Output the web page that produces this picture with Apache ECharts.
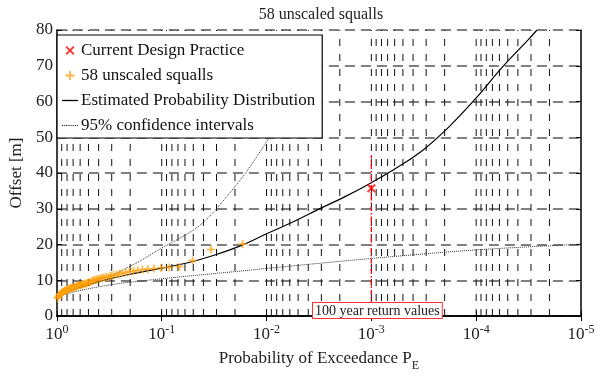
<!DOCTYPE html>
<html><head><meta charset="utf-8">
<script src="https://cdn.jsdelivr.net/npm/echarts@6/dist/echarts.min.js"></script>
<style>html,body{margin:0;padding:0;background:#fff}#c{width:606px;height:377px}</style>
</head><body><div id="c"></div>
<script>
// ---- data ----
const titleText = '58 unscaled squalls';
const xDecadeExponents = [0, -1, -2, -3, -4, -5];
const yTicks = [0, 10, 20, 30, 40, 50, 60, 70, 80];

// 58 squalls: exceedance probability and offset [m]
const squallP = [0.01695,0.03390,0.05085,0.06780,0.08475,0.10169,0.11864,0.13559,0.15254,0.16949,
  0.18644,0.20339,0.22034,0.23729,0.25424,0.27119,0.28814,0.30508,0.32203,0.33898,
  0.35593,0.37288,0.38983,0.40678,0.42373,0.44068,0.45763,0.47458,0.49153,0.50847,
  0.52542,0.54237,0.55932,0.57627,0.59322,0.61017,0.62712,0.64407,0.66102,0.67797,
  0.69492,0.71186,0.72881,0.74576,0.76271,0.77966,0.79661,0.81356,0.83051,0.84746,
  0.86441,0.88136,0.89831,0.91525,0.93220,0.94915,0.96610,0.98305];
const squallOffset = [20.1,18.6,15.5,13.8,13.6,13.5,13.3,13.1,13.0,12.8,
  12.6,12.4,12.2,12.0,11.8,11.6,11.4,11.2,11.0,10.9,
  10.8,10.6,10.5,10.3,10.2,10.0,9.8,9.6,9.4,9.3,
  9.1,9.0,8.9,8.8,8.7,8.6,8.5,8.4,8.2,8.1,
  8.0,7.9,7.8,7.7,7.6,7.5,7.4,7.2,7.1,7.0,
  6.8,6.7,6.5,6.3,6.1,5.9,5.4,5.0];

// Current design practice (100 year return value)
const designP = [0.001];
const designOffset = [35.7];
const returnLineOffsets = [0, 45];

// Estimated probability distribution (log10 P, offset)
const fitExp    = [0, -0.1, -0.25, -0.5, -0.75, -1.0, -1.25, -1.5, -1.75, -2.0, -2.25, -2.5, -2.75, -3.0, -3.25, -3.5, -3.75, -4.0, -4.25, -4.5, -4.58];
const fitOffset = [5.3, 6.8, 8.3, 10.4, 12.0, 13.4, 14.9, 17.0, 19.6, 23.0, 26.3, 29.9, 33.4, 37.3, 41.6, 46.6, 53.2, 61.0, 69.6, 77.4, 80.0];

// 95% confidence intervals (log10 P, offset)
const upperExp    = [0, -0.2, -0.36, -0.55, -0.67, -0.8, -0.93, -1.0, -1.28, -1.4, -1.52, -1.8, -2.03, -2.2];
const upperOffset = [5.6, 8.0, 10.0, 11.8, 13.5, 15.5, 17.8, 19.0, 23.6, 26.3, 29.9, 40.0, 50.0, 57.0];
const lowerExp    = [0, -0.2, -0.55, -0.93, -1.3, -1.87, -2.0, -3.0, -4.0, -5.0];
const lowerOffset = [5.4, 7.0, 8.9, 10.2, 11.3, 12.9, 13.3, 16.1, 18.5, 20.1];

const annotationText = '100 year return values';

// ---- build ----
const FONT = 'Liberation Serif';
const toPairs = (ex, ys) => ex.map((e, i) => [Math.pow(10, e), ys[i]]);
const vGrid = [];
for (let d = 0; d > -5; d--) {
  for (let m = 1; m <= 9; m++) {
    const v = m * Math.pow(10, d - 1);
    if (v < 0.999 && v > 1.0001e-5) vGrid.push([v, 0]);
  }
}
const crossPath = 'path://M0,1.5L1.5,0L5,3.5L8.5,0L10,1.5L6.5,5L10,8.5L8.5,10L5,6.5L1.5,10L0,8.5L3.5,5Z';
const plusPath = 'path://M4,0H6V4H10V6H6V10H4V6H0V4H4Z';
const solidPath = 'path://M0,0H16V1.3H0Z';
let dots = '';
for (let k = 0; k < 8; k++) dots += 'M' + (2 * k) + ',0h1.1v1.1h-1.1z';
const dottedPath = 'path://' + dots;

const chart = echarts.init(document.getElementById('c'), null, { renderer: 'canvas' });
chart.setOption({
  animation: false,
  backgroundColor: '#fff',
  title: {
    text: titleText, left: 316, top: 2, textAlign: 'center',
    textStyle: { fontFamily: FONT, fontSize: 16, fontWeight: 'normal', color: '#222' }
  },
  grid: { left: 52, right: 25, top: 30, bottom: 49 },
  legend: {
    orient: 'vertical', left: 57, top: 35,
    backgroundColor: '#fff', borderColor: '#000', borderWidth: 1.2,
    padding: [7, 7, 4, 5], itemGap: 8, itemWidth: 16, itemHeight: 9,
    textStyle: { fontFamily: FONT, fontSize: 17, color: '#111', padding: [0, 0, 0, -2] },
    data: [
      { name: 'Current Design Practice', icon: crossPath },
      { name: '58 unscaled squalls', icon: plusPath },
      { name: 'Estimated Probability Distribution', icon: solidPath, itemStyle: { color: '#000' } },
      { name: '95% confidence intervals', icon: dottedPath, itemStyle: { color: '#222' } }
    ]
  },
  xAxis: [{
    type: 'log', logBase: 10, min: 1e-5, max: 1, inverse: true,
    name: 'Probability of Exceedance P{sub|E}', nameLocation: 'middle', nameGap: 30,
    nameTextStyle: {
      fontFamily: FONT, fontSize: 17, color: '#222',
      rich: { sub: { fontFamily: FONT, fontSize: 12, padding: [14, 0, 0, 0], color: '#222' } }
    },
    axisLine: { lineStyle: { color: '#000', width: 1.5 } },
    axisTick: { inside: true, length: 5, lineStyle: { color: '#000' } },
    splitLine: { show: false },
    axisLabel: {
      margin: 8, color: '#222', fontFamily: FONT, fontSize: 17,
      formatter: v => '10{sup|' + Math.round(Math.log10(v)) + '}',
      rich: { sup: { fontFamily: FONT, fontSize: 12, padding: [0, 0, 10, 0], color: '#222' } }
    }
  }, {
    type: 'log', logBase: 10, min: 1e-5, max: 1, inverse: true, position: 'top',
    axisLine: { lineStyle: { color: '#000', width: 1.5 } },
    axisTick: { inside: true, length: 5, lineStyle: { color: '#000' } },
    axisLabel: { show: false }, splitLine: { show: false }
  }],
  yAxis: [{
    type: 'value', min: 0, max: 80, interval: 10,
    name: 'Offset [m]', nameLocation: 'middle', nameGap: 28,
    nameTextStyle: { fontFamily: FONT, fontSize: 17, color: '#222' },
    axisLine: { show: true, lineStyle: { color: '#000', width: 1.5 } },
    axisTick: { show: true, inside: true, length: 5, lineStyle: { color: '#000' } },
    axisLabel: { margin: 4, color: '#222', fontFamily: FONT, fontSize: 17,
      formatter: v => yTicks.indexOf(v) >= 0 ? String(v) : '' },
    splitLine: { show: true, lineStyle: { color: '#555', width: 1.5, type: [10, 6] } }
  }, {
    type: 'value', min: 0, max: 80, interval: 10, position: 'right',
    axisLine: { show: true, lineStyle: { color: '#000', width: 1.5 } },
    axisTick: { show: true, inside: true, length: 5, lineStyle: { color: '#000' } },
    axisLabel: { show: false }, splitLine: { show: false }
  }],
  series: [
    {
      name: 'vgrid', type: 'custom', silent: true, z: 1, clip: true,
      data: vGrid,
      encode: { x: 0, y: 1 },
      renderItem: (params, api) => {
        const v = api.value(0);
        const p0 = api.coord([v, 0]);
        const p1 = api.coord([v, 80]);
        return {
          type: 'line', silent: true,
          shape: { x1: p0[0], y1: p0[1], x2: p1[0], y2: p1[1] },
          style: { stroke: '#111', lineWidth: 1, lineDash: [7, 8] }
        };
      }
    },
    {
      name: '95% confidence intervals', type: 'line', symbol: 'none', z: 3,
      data: toPairs(upperExp, upperOffset), smooth: 0.3,
      itemStyle: { color: '#333' },
      lineStyle: { color: '#333', width: 1, type: [1, 1] }
    },
    {
      name: '95% confidence intervals', type: 'line', symbol: 'none', z: 3,
      data: toPairs(lowerExp, lowerOffset), smooth: 0.3,
      itemStyle: { color: '#333' },
      lineStyle: { color: '#333', width: 1, type: [1, 1] }
    },
    {
      name: 'Estimated Probability Distribution', type: 'line', symbol: 'none', z: 4,
      data: toPairs(fitExp, fitOffset), smooth: 0.4,
      itemStyle: { color: '#000' },
      lineStyle: { color: '#000', width: 1.2 }
    },
    {
      name: 'returnline', type: 'line', silent: true, symbol: 'none', z: 6,
      data: returnLineOffsets.map(y => [designP[0], y]),
      itemStyle: { color: '#ff0000' },
      lineStyle: { color: '#ff0000', width: 1.3, type: [5, 2, 1.5, 2] }
    },
    {
      name: '58 unscaled squalls', type: 'scatter', symbol: plusPath, symbolSize: 8, z: 5,
      itemStyle: { color: '#ffa00a' },
      data: squallP.map((p, i) => [p, squallOffset[i]])
    },
    {
      name: 'Current Design Practice', type: 'scatter', symbol: crossPath, symbolSize: 9, z: 7,
      itemStyle: { color: '#ff0000' },
      data: designP.map((p, i) => [p, designOffset[i]])
    }
  ],
  graphic: [{
    type: 'text', left: 312, top: 302, z: 10,
    style: {
      text: annotationText, fontFamily: FONT, fontSize: 14, fill: '#222',
      backgroundColor: '#fff', borderColor: '#ff3030', borderWidth: 1, padding: [1, 2, 0, 2]
    }
  }]
});
</script></body></html>
